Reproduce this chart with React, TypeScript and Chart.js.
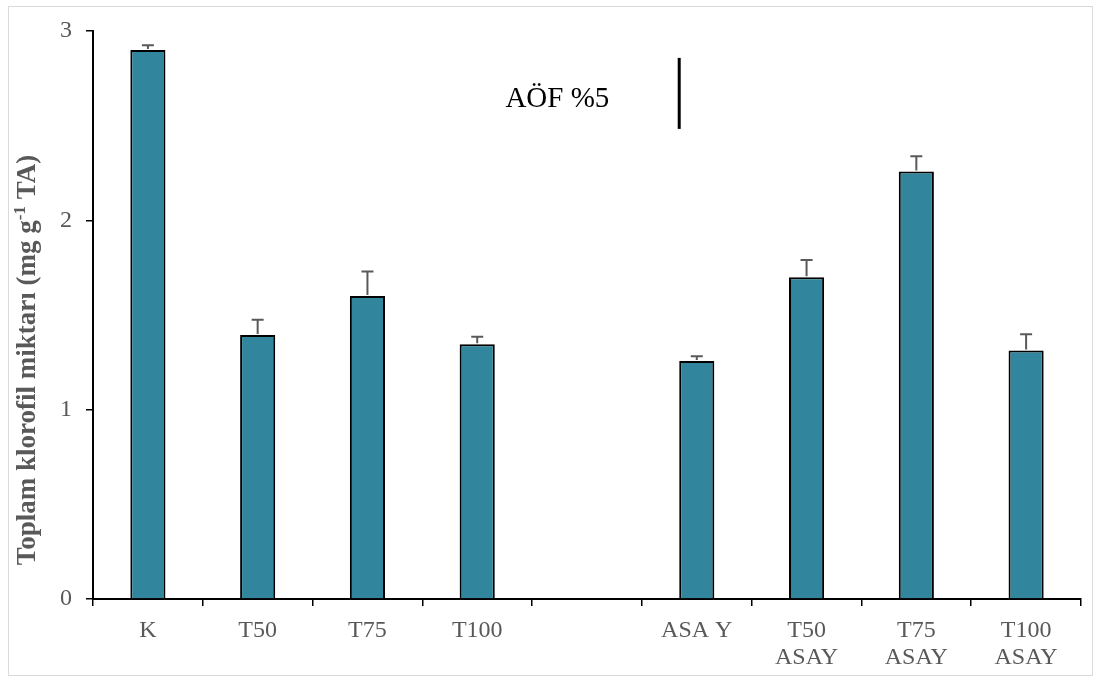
import React, { useEffect, useRef } from "react";
import { Chart, registerables } from "chart.js";

Chart.register(...registerables);

const categories: (string | string[])[] = [
  "K",
  "T50",
  "T75",
  "T100",
  "",
  "ASA Y",
  ["T50", "ASAY"],
  ["T75", "ASAY"],
  ["T100", "ASAY"],
];
const values: (number | null)[] = [2.9, 1.395, 1.6, 1.345, null, 1.257, 1.7, 2.258, 1.313];
const errors: (number | null)[] = [0.025, 0.08, 0.13, 0.04, null, 0.025, 0.09, 0.08, 0.085];
const yTicks = [0, 1, 2, 3];
const lsdValue = 0.375;
const lsdTop = 2.858;
const lsdLabel = "AÖF %5";

const SERIF = "'Liberation Serif', 'Times New Roman', serif";
const GRAY = "#595959";
const annot = { lineX: 4.84, labelX: 3.73, labelY: 2.6 };

const errorBarPlugin = {
  id: "errorBars",
  afterDatasetsDraw(chart: any) {
    const ctx = chart.ctx;
    const meta = chart.getDatasetMeta(0);
    const y = chart.scales.y;
    ctx.save();
    ctx.strokeStyle = GRAY;
    ctx.lineWidth = 2;
    meta.data.forEach((bar: any, i: number) => {
      const v = values[i];
      const e = errors[i];
      if (v == null || e == null) return;
      const top = y.getPixelForValue(v + e);
      const base = y.getPixelForValue(v);
      ctx.beginPath();
      ctx.moveTo(bar.x, base - 1);
      ctx.lineTo(bar.x, top);
      ctx.moveTo(bar.x - 6, top);
      ctx.lineTo(bar.x + 6, top);
      ctx.stroke();
    });
    ctx.restore();
  },
};

const decorPlugin = {
  id: "decor",
  beforeDraw(chart: any) {
    const ctx = chart.ctx;
    ctx.save();
    ctx.fillStyle = "#ffffff";
    ctx.fillRect(0, 0, chart.width, chart.height);
    ctx.strokeStyle = "#d9d9d9";
    ctx.lineWidth = 1;
    ctx.strokeRect(8.5, 6.5, 1084, 669);
    ctx.restore();
  },
  afterDraw(chart: any) {
    const ctx = chart.ctx;
    const x = chart.scales.x;
    const y = chart.scales.y;
    ctx.save();
    // LSD line
    const lx = x.getPixelForValue(annot.lineX);
    ctx.strokeStyle = "#000";
    ctx.lineWidth = 3;
    ctx.beginPath();
    ctx.moveTo(lx, y.getPixelForValue(lsdTop));
    ctx.lineTo(lx, y.getPixelForValue(lsdTop - lsdValue));
    ctx.stroke();
    ctx.fillStyle = "#000";
    ctx.font = `29px ${SERIF}`;
    ctx.textAlign = "center";
    ctx.textBaseline = "alphabetic";
    ctx.fillText(lsdLabel, x.getPixelForValue(annot.labelX), y.getPixelForValue(annot.labelY));

    // Y title with superscript
    const main = "Toplam klorofil miktarı (mg g";
    const sup = "-1";
    const tail = " TA)";
    const fMain = `bold 27px ${SERIF}`;
    const fSup = `bold 17px ${SERIF}`;
    ctx.font = fMain;
    const w1 = ctx.measureText(main).width;
    const w3 = ctx.measureText(tail).width;
    ctx.font = fSup;
    const w2 = ctx.measureText(sup).width;
    const total = w1 + w2 + w3;
    ctx.translate(35, 360);
    ctx.rotate(-Math.PI / 2);
    ctx.textAlign = "left";
    ctx.textBaseline = "alphabetic";
    ctx.fillStyle = GRAY;
    let cx = -total / 2;
    ctx.font = fMain;
    ctx.fillText(main, cx, 0);
    cx += w1;
    ctx.font = fSup;
    ctx.fillText(sup, cx, -10);
    cx += w2;
    ctx.font = fMain;
    ctx.fillText(tail, cx, 0);
    ctx.restore();
  },
};

export default function App() {
  const ref = useRef<HTMLCanvasElement | null>(null);
  useEffect(() => {
    if (!ref.current) return;
    const chart = new Chart(ref.current, {
      type: "bar",
      data: {
        labels: categories as any,
        datasets: [
          {
            data: values,
            backgroundColor: "#31859C",
            borderColor: "#000000",
            borderWidth: 2,
            barPercentage: 0.32,
            categoryPercentage: 1,
          },
        ],
      },
      options: {
        animation: false,
        responsive: false,
        maintainAspectRatio: false,
        layout: { padding: { top: 31, right: 20, left: 0, bottom: 0 } },
        plugins: { legend: { display: false }, tooltip: { enabled: false } },
        scales: {
          x: {
            afterFit(scale: any) {
              scale.height = 83;
            },
            grid: {
              offset: true,
              drawOnChartArea: false,
              drawTicks: true,
              tickLength: 7,
              color: "#000",
              lineWidth: 1.5,
            },
            border: { color: "#000", width: 2 },
            ticks: {
              color: GRAY,
              font: { family: SERIF, size: 24, lineHeight: 1.125 },
              padding: 11,
              maxRotation: 0,
              autoSkip: false,
            },
          },
          y: {
            min: 0,
            max: 3,
            afterFit(scale: any) {
              scale.width = 93;
            },
            afterBuildTicks(scale: any) {
              scale.ticks = yTicks.map((v) => ({ value: v }));
            },
            grid: {
              drawOnChartArea: false,
              drawTicks: true,
              tickLength: 7,
              color: "#000",
              lineWidth: 1.5,
            },
            border: { color: "#000", width: 2 },
            ticks: {
              color: GRAY,
              font: { family: SERIF, size: 24 },
              padding: 14,
            },
          },
        },
      },
      plugins: [decorPlugin, errorBarPlugin],
    });
    return () => chart.destroy();
  }, []);
  return (
    <div style={{ position: "fixed", left: 0, top: 0, width: 1101, height: 682 }}>
      <canvas ref={ref} width={1101} height={682} style={{ width: 1101, height: 682, display: "block" }} />
    </div>
  );
}
